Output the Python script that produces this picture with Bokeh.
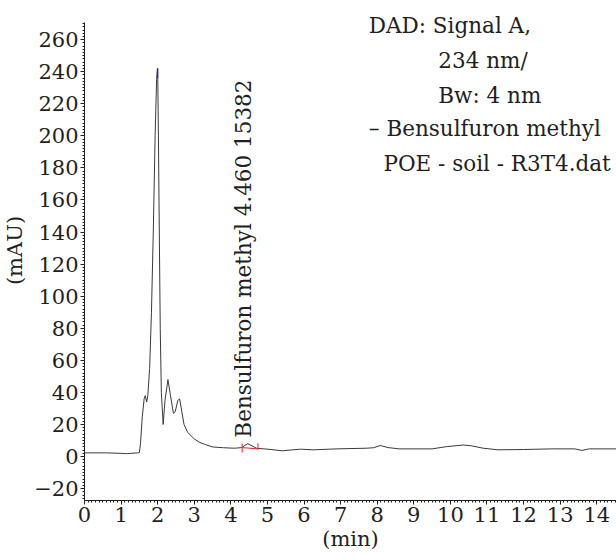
from bokeh.plotting import figure
from bokeh.models import Range1d, SingleIntervalTicker, Label
from bokeh.embed import file_html
from bokeh.resources import INLINE

# Chromatogram trace (min, mAU)
time_min = [0.0, 0.6, 1.0, 1.14, 1.25, 1.45, 1.5, 1.53, 1.58, 1.63, 1.66, 1.70, 1.73,
            1.78, 1.83, 1.88, 1.93, 1.97, 2.0, 2.02, 2.04, 2.07, 2.10, 2.15, 2.20,
            2.28, 2.35, 2.43, 2.48, 2.55, 2.60, 2.66, 2.72, 2.82, 3.0, 3.13, 3.3,
            3.5, 3.8, 4.1, 4.3, 4.38, 4.46, 4.55, 4.7, 4.8, 5.1, 5.4, 5.9, 6.25,
            6.9, 7.7, 7.9, 8.08, 8.3, 8.6, 9.5, 9.9, 10.35, 10.55, 10.9, 11.3,
            12.0, 12.8, 13.4, 13.6, 13.75, 13.8, 14.54]
signal_mau = [2.3, 2.3, 2.0, 1.8, 2.0, 2.3, 2.5, 8.0, 25.0, 36.0, 38.0, 34.0, 38.0,
              55.0, 90.0, 140.0, 200.0, 235.0, 242.0, 200.0, 150.0, 80.0, 40.0, 20.0, 35.0,
              48.0, 38.0, 27.0, 28.0, 35.0, 36.0, 28.0, 20.0, 15.0, 11.0, 9.0, 7.5,
              6.0, 5.5, 5.2, 5.6, 7.0, 8.0, 7.0, 5.2, 5.0, 4.4, 3.6, 4.6, 4.2,
              4.8, 5.2, 5.5, 6.9, 5.6, 4.8, 4.8, 6.2, 7.2, 6.8, 5.2, 4.2,
              4.4, 4.8, 4.8, 3.8, 4.6, 4.8, 4.8]

# Integration marks of the Bensulfuron methyl peak
integ_t = [4.31, 4.74]
integ_base = [5.6, 4.8]
integ_tick_low = [2.5, 4.2]
integ_tick_high = [8.1, 8.3]

# apex marker of the main peak
apex_t = [1.995]
apex_low = [236.0]
apex_high = [242.0]

x_ticks_step = 1
y_ticks_step = 20
y_axis_extent = (-27.4, 270.6)

legend_lines = ["DAD: Signal A,", "234 nm/", "Bw: 4 nm", "\u2013 Bensulfuron methyl",
                "POE - soil - R3T4.dat"]
legend_x = [7.77, 9.67, 9.67, 7.77, 8.17]
legend_y = [268.8, 246.9, 225.1, 204.5, 182.7]

peak_label = "Bensulfuron methyl 4.460 15382"

FONT = "DejaVu Serif"
TXT = "#231f20"

p = figure(width=616, height=556, output_backend="svg", toolbar_location=None,
           x_range=Range1d(0, 14.54), y_range=Range1d(-27.4, 284.4),
           min_border_left=81, min_border_right=0, min_border_top=0, min_border_bottom=56)
p.outline_line_color = None
p.xgrid.visible = False
p.ygrid.visible = False

p.line(time_min, signal_mau, line_color="#3a3a3a", line_width=1)
p.line(integ_t, integ_base, line_color="#e8262b", line_width=1)
p.segment(x0=integ_t, y0=integ_tick_low, x1=integ_t, y1=integ_tick_high,
          line_color="#e8262b", line_width=1)
p.segment(x0=apex_t, y0=apex_low, x1=apex_t, y1=apex_high,
          line_color="#2b2b9a", line_width=1.5)

for ax in (p.xaxis[0], p.yaxis[0]):
    ax.axis_line_color = TXT
    ax.major_tick_line_color = TXT
    ax.minor_tick_line_color = TXT
    ax.major_tick_in = 0
    ax.major_tick_out = 4
    ax.minor_tick_in = 0
    ax.minor_tick_out = 2
    ax.major_label_text_font = FONT
    ax.major_label_text_font_size = "21px"
    ax.major_label_text_color = TXT
    ax.axis_label_text_font = FONT
    ax.axis_label_text_font_size = "21px"
    ax.axis_label_text_font_style = "normal"
    ax.axis_label_text_color = TXT

p.xaxis.ticker = SingleIntervalTicker(interval=x_ticks_step, num_minor_ticks=10)
p.yaxis.ticker = SingleIntervalTicker(interval=y_ticks_step, num_minor_ticks=10)
p.yaxis.bounds = y_axis_extent
p.xaxis.axis_label = "(min)"
p.yaxis.axis_label = "(mAU)"
p.xaxis.major_label_standoff = 2
p.yaxis.major_label_standoff = 2
p.xaxis.axis_label_standoff = 2
p.yaxis.axis_label_standoff = 4

for txt, lx, ly in zip(legend_lines, legend_x, legend_y):
    p.add_layout(Label(x=lx, y=ly, text=txt, text_font=FONT, text_font_size="21.5px",
                       text_color=TXT, text_align="left", text_baseline="middle"))

p.add_layout(Label(x=4.35, y=11.8, text=peak_label, angle=90, angle_units="deg",
                   text_font=FONT, text_font_size="21.5px", text_color=TXT,
                   text_align="left", text_baseline="middle"))

open("out.html", "w").write(file_html(p, INLINE))
